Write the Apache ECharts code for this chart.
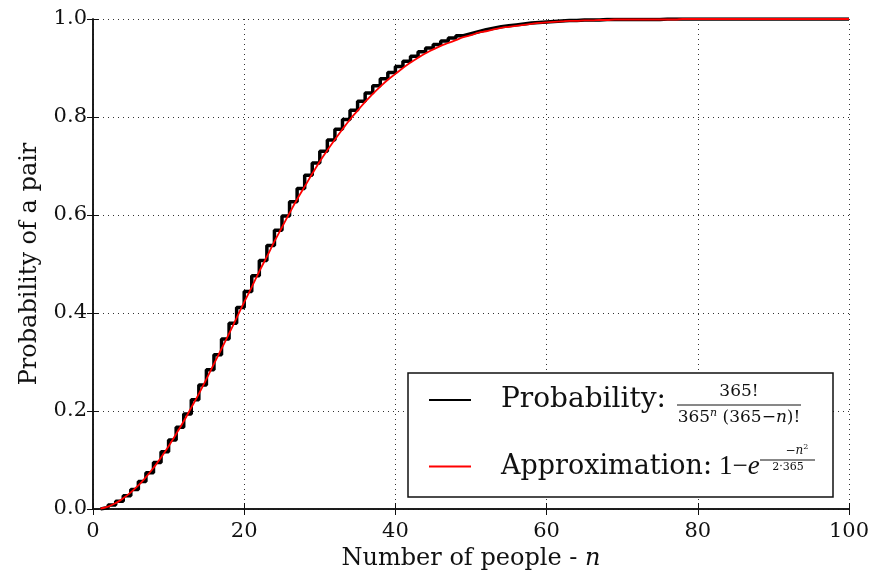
<!DOCTYPE html>
<html><head><meta charset="utf-8">
<script src="https://cdn.jsdelivr.net/npm/echarts@6/dist/echarts.min.js"></script>
<style>html,body{margin:0;padding:0;background:#fff}#c{width:885px;height:570px}</style>
</head><body><div id="c"></div>
<script>
// Number of people n
const people = [1,2,3,4,5,6,7,8,9,10,11,12,13,14,15,16,17,18,19,20,
  21,22,23,24,25,26,27,28,29,30,31,32,33,34,35,36,37,38,39,40,
  41,42,43,44,45,46,47,48,49,50,51,52,53,54,55,56,57,58,59,60,
  61,62,63,64,65,66,67,68,69,70,71,72,73,74,75,76,77,78,79,80,
  81,82,83,84,85,86,87,88,89,90,91,92,93,94,95,96,97,98,99,100];
// Probability of a pair (step curve)
const probability = [0.000,0.003,0.008,0.016,0.027,0.040,0.056,0.074,0.095,0.117,
  0.141,0.167,0.194,0.223,0.253,0.284,0.315,0.347,0.379,0.411,
  0.444,0.476,0.507,0.538,0.569,0.598,0.627,0.654,0.681,0.706,
  0.730,0.753,0.775,0.795,0.814,0.832,0.849,0.864,0.878,0.891,
  0.903,0.914,0.924,0.933,0.941,0.948,0.955,0.961,0.966,0.970,
  0.974,0.978,0.981,0.984,0.986,0.988,0.990,0.992,0.993,0.994,
  0.995,0.996,0.997,0.997,0.998,0.998,0.998,0.999,0.999,0.999,
  0.999,0.999,0.999,0.999,0.999,1.000,1.000,1.000,1.000,1.000,
  1.000,1.000,1.000,1.000,1.000,1.000,1.000,1.000,1.000,1.000,
  1.000,1.000,1.000,1.000,1.000,1.000,1.000,1.000,1.000,1.000];
// Approximation (smooth red curve)
const approximation = [0.001,0.005,0.012,0.022,0.034,0.048,0.065,0.084,0.105,0.128,
  0.153,0.179,0.207,0.235,0.265,0.296,0.327,0.358,0.390,0.422,
  0.453,0.485,0.515,0.546,0.575,0.604,0.632,0.658,0.684,0.709,
  0.732,0.754,0.775,0.795,0.813,0.831,0.847,0.862,0.876,0.888,
  0.900,0.911,0.921,0.930,0.938,0.945,0.951,0.957,0.963,0.967,
  0.972,0.975,0.979,0.982,0.984,0.986,0.988,0.990,0.992,0.993,
  0.994,0.995,0.996,0.996,0.997,0.997,0.998,0.998,0.999,0.999,
  0.999,0.999,0.999,0.999,0.999,0.999,0.999,1.000,1.000,1.000,
  1.000,1.000,1.000,1.000,1.000,1.000,1.000,1.000,1.000,1.000,
  1.000,1.000,1.000,1.000,1.000,1.000,1.000,1.000,1.000,1.000];
const xTicks = [0, 20, 40, 60, 80, 100];
const yTicks = [0.0, 0.2, 0.4, 0.6, 0.8, 1.0];

const SERIF = '"DejaVu Serif", serif';
const MATH = '"Liberation Serif", serif';
const probData = people.map((n, i) => [n, probability[i]]);
const approxData = people.map((n, i) => [n, approximation[i]]);

const chart = echarts.init(document.getElementById('c'), null, {renderer: 'canvas'});
const frameLine = {show: true, lineStyle: {color: '#111', width: 1.5}};
const tickIn = {show: true, inside: true, length: 6, lineStyle: {color: '#111', width: 1}};
const grid = {show: true, lineStyle: {color: '#333', width: 1, type: [1, 4]}};

chart.setOption({
  animation: false,
  backgroundColor: '#fff',
  grid: {left: 93, right: 36, top: 19, bottom: 61, containLabel: false, outerBoundsMode: 'none'},
  xAxis: [{
    type: 'value', min: xTicks[0], max: xTicks[xTicks.length - 1], interval: 20,
    axisLine: frameLine, axisTick: tickIn, splitLine: grid,
    axisLabel: {color: '#111', fontFamily: SERIF, fontSize: 21, margin: 12,
      formatter: v => xTicks.includes(v) ? String(v) : ''},
    name: '{a|Number of people - }{i|n}', nameLocation: 'middle', nameGap: 38,
    nameTextStyle: {rich: {
      a: {fontFamily: SERIF, fontSize: 24, color: '#111'},
      i: {fontFamily: SERIF, fontStyle: 'italic', fontSize: 24, color: '#111'}}}
  }, {
    type: 'value', position: 'top', min: 0, max: 100, interval: 20,
    axisLine: frameLine, axisTick: tickIn, splitLine: {show: false}, axisLabel: {show: false}
  }],
  yAxis: [{
    type: 'value', min: 0, max: 1, interval: 0.2,
    axisLine: frameLine, axisTick: tickIn, splitLine: grid,
    axisLabel: {color: '#111', fontFamily: SERIF, fontSize: 21, margin: 6,
      formatter: v => yTicks.map(t => t.toFixed(1)).includes(v.toFixed(1)) ? v.toFixed(1) : ''},
    name: 'Probability of a pair', nameLocation: 'middle', nameGap: 51,
    nameTextStyle: {fontFamily: SERIF, fontSize: 24, color: '#111'}
  }, {
    type: 'value', position: 'right', min: 0, max: 1, interval: 0.2,
    axisLine: frameLine, axisTick: tickIn, splitLine: {show: false}, axisLabel: {show: false}
  }],
  legend: {
    show: true, orient: 'vertical', left: 428, top: 386, padding: 0,
    itemWidth: 42, itemHeight: 14, itemGap: 39, z: 8,
    itemStyle: {opacity: 0},
    data: ['Probability', 'Approximation'],
    formatter: name => name === 'Probability'
      ? '{t|Probability:}'
      : '{u|Approximation:}{m|1−}{i|e}',
    textStyle: {rich: {
      t: {fontFamily: SERIF, fontSize: 28, color: '#111', padding: [0, 0, 0, 25]},
      u: {fontFamily: SERIF, fontSize: 27, color: '#111', padding: [0, 0, 0, 25]},
      m: {fontFamily: MATH, fontSize: 27, color: '#111', padding: [0, 0, 0, 7]},
      i: {fontFamily: MATH, fontStyle: 'italic', fontSize: 27, color: '#111'}
    }}
  },
  graphic: [
    {type: 'rect', z: 5, shape: {x: 408, y: 373, width: 425, height: 124},
     style: {fill: '#fff', stroke: '#111', lineWidth: 1.5}},
    {type: 'text', z: 9, style: {text: '365!', x: 739, y: 392, align: 'center', verticalAlign: 'middle',
      font: '17px ' + SERIF, fill: '#111'}},
    {type: 'line', z: 9, shape: {x1: 677, y1: 405, x2: 801, y2: 405}, style: {stroke: '#111', lineWidth: 1}},
    {type: 'text', z: 9, style: {text: '{d|365}{s|n}{d| (365−}{i|n}{d|)!}', x: 739, y: 418,
      align: 'center', verticalAlign: 'middle', fill: '#111',
      rich: {d: {font: '17px ' + SERIF, fill: '#111'},
             s: {font: 'italic 11px ' + SERIF, fill: '#111', padding: [0, 0, 10, 0]},
             i: {font: 'italic 17px ' + SERIF, fill: '#111'}}}},
    {type: 'text', z: 9, style: {text: '{d|−}{i|n}{s|2}', x: 797, y: 451,
      align: 'center', verticalAlign: 'middle', fill: '#111',
      rich: {d: {font: '12px ' + SERIF, fill: '#111'},
             s: {font: '8px ' + SERIF, fill: '#111', padding: [0, 0, 8, 0]},
             i: {font: 'italic 12px ' + SERIF, fill: '#111'}}}},
    {type: 'line', z: 9, shape: {x1: 760, y1: 460, x2: 815, y2: 460}, style: {stroke: '#111', lineWidth: 1}},
    {type: 'text', z: 9, style: {text: '2·365', x: 788, y: 467, align: 'center', verticalAlign: 'middle',
      font: '11px ' + SERIF, fill: '#111'}}
  ],
  series: [{
    name: 'Probability', type: 'line', step: 'start', data: probData,
    showSymbol: false, symbol: 'none', z: 3,
    lineStyle: {color: '#000', width: 3.5}, itemStyle: {color: '#000'}
  }, {
    name: 'Approximation', type: 'line', smooth: true, data: approxData,
    showSymbol: false, symbol: 'none', z: 4,
    lineStyle: {color: '#ff0000', width: 1.8}, itemStyle: {color: '#ff0000'}
  }]
});
</script></body></html>
